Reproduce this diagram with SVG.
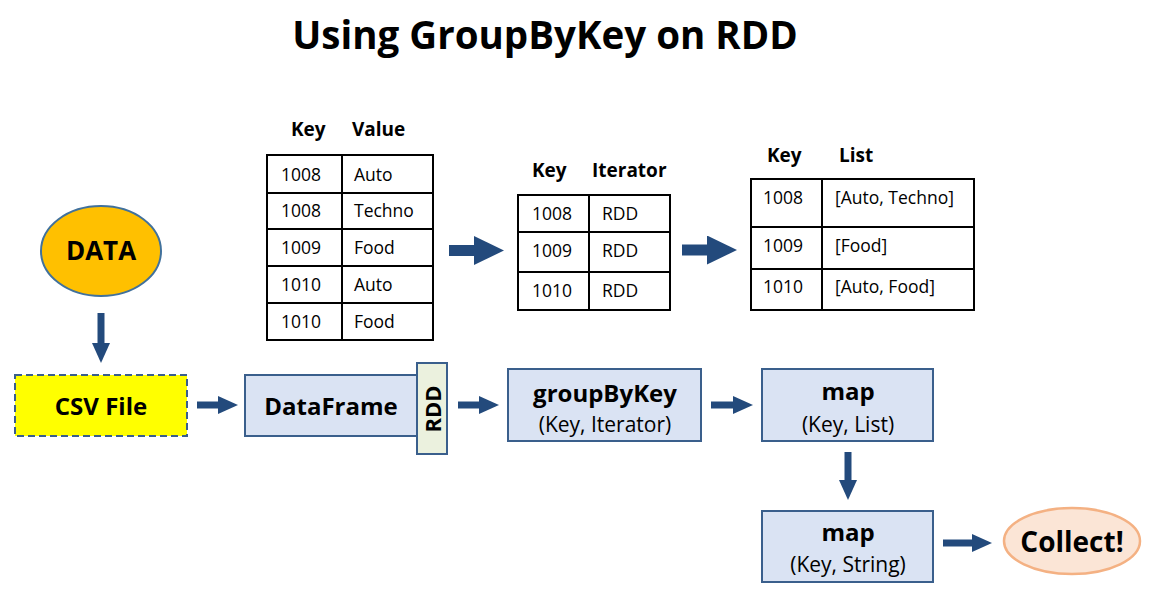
<svg xmlns="http://www.w3.org/2000/svg" width="1159" height="603" viewBox="0 0 1159 603">
<style>
text{font-family:"Open Sans","Liberation Sans",sans-serif;fill:#000}
.title{font-size:38.5px;font-weight:700}
.b24{font-size:24px;font-weight:700}
.sub{font-size:21px}
.hdr{font-size:19px;font-weight:700}
.cell{font-size:17.5px}
.box{fill:#DAE3F3;stroke:#3A5F8C;stroke-width:2}
.tbl{fill:#fff;stroke:#000;stroke-width:2}
.tl{stroke:#000;stroke-width:2}
.conn line{stroke:#234A7C;fill:none}
.s{stroke-width:7}
.bg{stroke-width:11}
.mid{text-anchor:middle}
</style>
<defs>
<marker id="ah" markerWidth="20" markerHeight="18" refX="0" refY="9" orient="auto" markerUnits="userSpaceOnUse"><path d="M0,0 L20,9 L0,18 z" fill="#234A7C"/></marker>
<marker id="ahb" markerWidth="30" markerHeight="29" refX="0" refY="14.5" orient="auto" markerUnits="userSpaceOnUse"><path d="M0,0 L30,14.5 L0,29 z" fill="#234A7C"/></marker>
</defs>
<rect width="1159" height="603" fill="#fff"/>
<text class="title mid" x="545" y="49">Using GroupByKey on RDD</text>

<g id="table-kv">
<text class="hdr" x="291" y="136">Key</text>
<text class="hdr" x="352" y="136">Value</text>
<rect class="tbl" x="267" y="155" width="166" height="185"/>
<line class="tl" x1="342" y1="155" x2="342" y2="340"/>
<line class="tl" x1="267" y1="193" x2="433" y2="193"/>
<line class="tl" x1="267" y1="229" x2="433" y2="229"/>
<line class="tl" x1="267" y1="266" x2="433" y2="266"/>
<line class="tl" x1="267" y1="303" x2="433" y2="303"/>
<text class="cell" x="281" y="181">1008</text><text class="cell" x="354" y="181">Auto</text>
<text class="cell" x="281" y="217">1008</text><text class="cell" x="354" y="217">Techno</text>
<text class="cell" x="281" y="254">1009</text><text class="cell" x="354" y="254">Food</text>
<text class="cell" x="281" y="291">1010</text><text class="cell" x="354" y="291">Auto</text>
<text class="cell" x="281" y="328">1010</text><text class="cell" x="354" y="328">Food</text>
</g>

<g id="table-ki">
<text class="hdr" x="532" y="177">Key</text>
<text class="hdr" x="592" y="177">Iterator</text>
<rect class="tbl" x="518" y="195" width="152" height="115"/>
<line class="tl" x1="589" y1="195" x2="589" y2="310"/>
<line class="tl" x1="518" y1="232" x2="670" y2="232"/>
<line class="tl" x1="518" y1="272" x2="670" y2="272"/>
<text class="cell" x="532" y="220">1008</text><text class="cell" x="602" y="220">RDD</text>
<text class="cell" x="532" y="257">1009</text><text class="cell" x="602" y="257">RDD</text>
<text class="cell" x="532" y="297">1010</text><text class="cell" x="602" y="297">RDD</text>
</g>

<g id="table-kl">
<text class="hdr" x="767" y="162">Key</text>
<text class="hdr" x="839" y="162">List</text>
<rect class="tbl" x="751" y="179" width="223" height="131"/>
<line class="tl" x1="822" y1="179" x2="822" y2="310"/>
<line class="tl" x1="751" y1="227" x2="974" y2="227"/>
<line class="tl" x1="751" y1="269" x2="974" y2="269"/>
<text class="cell" x="763" y="204">1008</text><text class="cell" x="835" y="204">[Auto, Techno]</text>
<text class="cell" x="763" y="252">1009</text><text class="cell" x="835" y="252">[Food]</text>
<text class="cell" x="763" y="293">1010</text><text class="cell" x="835" y="293">[Auto, Food]</text>
</g>

<g id="data">
<ellipse cx="101" cy="251" rx="60" ry="45" fill="#FFC000" stroke="#41719C" stroke-width="2"/>
<text class="mid" x="101" y="260" style="font-size:26px;font-weight:700">DATA</text>
</g>

<g id="csv">
<rect x="15" y="375" width="172" height="61" fill="#FFFF00" stroke="#3A5F8C" stroke-width="2" stroke-dasharray="7,4"/>
<text class="b24 mid" x="101" y="415">CSV File</text>
</g>

<g id="dataframe">
<rect class="box" x="245" y="375" width="172" height="61"/>
<text class="b24 mid" x="331" y="415">DataFrame</text>
</g>

<g id="rdd">
<rect x="417" y="363" width="30" height="91" fill="#EBF1DE" stroke="#3A5F8C" stroke-width="2"/>
<text class="mid" transform="translate(441,409) rotate(-90)" style="font-size:22px;font-weight:700">RDD</text>
</g>

<g id="groupbykey">
<rect class="box" x="508" y="369" width="193" height="72"/>
<text class="b24 mid" x="605" y="402">groupByKey</text>
<text class="sub mid" x="605" y="432">(Key, Iterator)</text>
</g>

<g id="map1">
<rect class="box" x="762" y="369" width="171" height="72"/>
<text class="b24 mid" x="848" y="400">map</text>
<text class="sub mid" x="848" y="432">(Key, List)</text>
</g>

<g id="map2">
<rect class="box" x="762" y="511" width="171" height="71"/>
<text class="b24 mid" x="848" y="541">map</text>
<text class="sub mid" x="848" y="572">(Key, String)</text>
</g>

<g id="collect">
<ellipse cx="1072" cy="541" rx="68" ry="33" fill="#FBE5D6" stroke="#F4B183" stroke-width="2.5"/>
<text class="mid" x="1072" y="552" style="font-size:28px;font-weight:700">Collect!</text>
</g>

<g id="connectors" class="conn">
<line class="bg" x1="449" y1="250.5" x2="474" y2="250.5" marker-end="url(#ahb)"/>
<line class="bg" x1="682" y1="250" x2="707" y2="250" marker-end="url(#ahb)"/>
<line class="s" x1="101" y1="313" x2="101" y2="343" marker-end="url(#ah)"/>
<line class="s" x1="197" y1="405" x2="218" y2="405" marker-end="url(#ah)"/>
<line class="s" x1="458" y1="405" x2="479" y2="405" marker-end="url(#ah)"/>
<line class="s" x1="711" y1="405" x2="733" y2="405" marker-end="url(#ah)"/>
<line class="s" x1="848" y1="452" x2="848" y2="480" marker-end="url(#ah)"/>
<line class="s" x1="943" y1="543" x2="972" y2="543" marker-end="url(#ah)"/>
</g>
</svg>
